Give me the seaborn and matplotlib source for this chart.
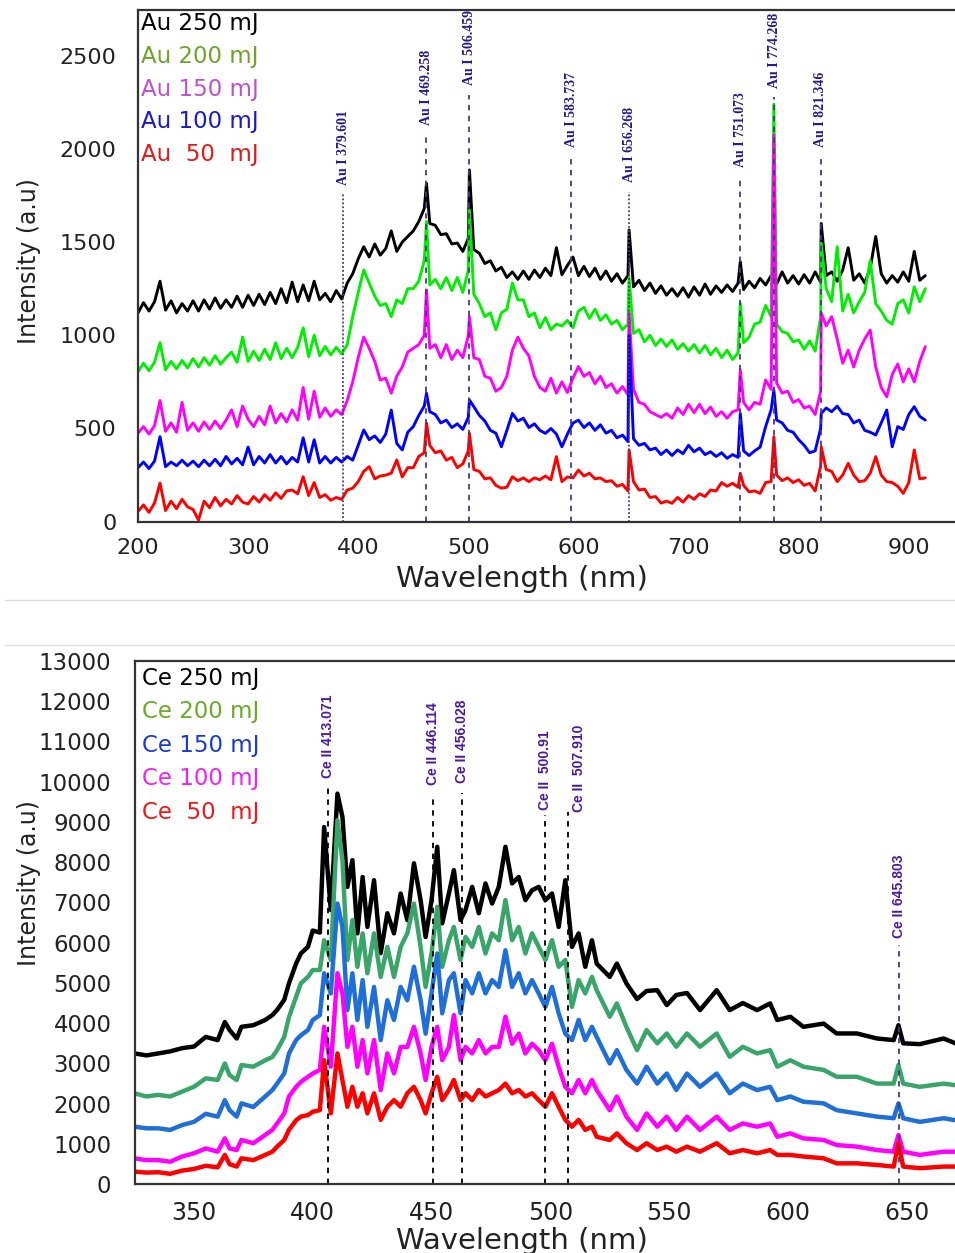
import numpy as np
import pandas as pd
import matplotlib.pyplot as plt
import seaborn as sns
from matplotlib.lines import Line2D
from matplotlib.ticker import MultipleLocator

sns.set_style("white")
plt.rcParams['font.family'] = ['DejaVu Sans']

# ---------------- Au spectra (top panel) ----------------
au_nm = np.arange(200, 916, 5)
au_labels = ['Au 250 mJ', 'Au 200 mJ', 'Au 150 mJ', 'Au 100 mJ', 'Au  50  mJ']
au_line_colors = ['#000000', '#00ee00', '#ff00ff', '#0000ff', '#ff0000']
au_text_colors = ['#000000', '#6fa32a', '#c050d0', '#1a1acd', '#e01a1a']

au_250 = [1120, 1175, 1130, 1180, 1290, 1135, 1185, 1120, 1170, 1130,
          1185, 1130, 1190, 1140, 1200, 1145, 1190, 1150, 1210, 1150,
          1215, 1160, 1220, 1165, 1230, 1170, 1250, 1175, 1285, 1180,
          1270, 1185, 1290, 1190, 1225, 1180, 1240, 1195, 1280, 1330,
          1410, 1475, 1420, 1490, 1430, 1465, 1560, 1450, 1500, 1530,
          1560, 1610, 1680, 1600, 1590, 1540, 1545, 1490, 1495, 1450,
          1520, 1460, 1440, 1385, 1400, 1345, 1365, 1310, 1340, 1300,
          1345, 1300, 1350, 1310, 1360, 1320, 1470, 1325, 1375, 1420,
          1320, 1370, 1315, 1360, 1300, 1345, 1290, 1330, 1280, 1320,
          1260, 1295, 1240, 1280, 1225, 1265, 1215, 1250, 1210, 1255,
          1205, 1260, 1215, 1275, 1220, 1265, 1230, 1270, 1235, 1280,
          1245, 1290, 1255, 1305, 1270, 1320, 1275, 1340, 1280, 1320,
          1275, 1325, 1280, 1340, 1285, 1320, 1340, 1290, 1350, 1470,
          1295, 1330, 1280, 1360, 1530, 1330, 1280, 1320, 1285, 1340,
          1290, 1450, 1295, 1320]
au_200 = [805, 850, 810, 855, 960, 815, 860, 820, 865, 825,
          875, 830, 880, 840, 890, 845, 880, 910, 855, 990,
          860, 915, 865, 925, 870, 960, 875, 930, 880, 935,
          1040, 885, 1000, 890, 940, 895, 935, 900, 950, 1100,
          1230, 1350, 1280, 1210, 1160, 1170, 1100, 1190, 1170, 1250,
          1250, 1290, 1400, 1270, 1300, 1250, 1310, 1240, 1310, 1230,
          1350, 1220, 1170, 1100, 1120, 1030, 1120, 1140, 1280, 1190,
          1190, 1100, 1120, 1040, 1095, 1030, 1060, 1050, 1080, 1040,
          1130, 1150, 1090, 1140, 1080, 1110, 1060, 1080, 1030, 1060,
          1010, 1030, 965, 1000, 945, 980, 940, 975, 925, 955,
          915, 950, 905, 945, 895, 930, 880, 920, 870, 905,
          960, 990, 1060, 1070, 1160, 1100, 1060, 1020, 1010, 965,
          975, 925, 970, 915, 1100, 1250, 1180, 1475, 1130, 1220,
          1120, 1180, 1230, 1400, 1170, 1130, 1080, 1060, 1170, 1190,
          1120, 1260, 1180, 1250]
au_150 = [475, 510, 470, 515, 650, 485, 530, 480, 640, 490,
          530, 485, 535, 495, 540, 500, 545, 600, 510, 620,
          550, 510, 565, 520, 620, 530, 580, 535, 600, 545,
          720, 550, 700, 560, 610, 565, 600, 575, 650, 750,
          880, 990, 930, 860, 760, 770, 690, 780, 830, 910,
          930, 950, 1000, 930, 950, 880, 950, 870, 920, 880,
          1000, 880, 870, 780, 770, 700, 720, 780, 920, 990,
          930, 890, 780, 720, 700, 770, 690, 750, 693, 770,
          832, 780, 800, 740, 780, 720, 740, 690, 725, 680,
          710, 640, 630, 590, 575, 560, 580, 555, 610, 575,
          630, 585, 630, 580, 615, 565, 590, 555, 590, 600,
          640, 600, 640, 630, 760, 710, 744, 690, 700, 640,
          655, 610, 620, 575, 700, 1050, 1100, 980, 850, 920,
          830, 920, 980, 1028, 830, 720, 670, 790, 846, 750,
          820, 750, 860, 939]
au_100 = [290, 320, 285, 325, 456, 295, 320, 300, 330, 300,
          325, 295, 330, 300, 335, 300, 350, 310, 340, 305,
          400, 305, 350, 315, 360, 315, 350, 310, 345, 320,
          450, 320, 440, 315, 350, 315, 345, 320, 350, 330,
          410, 492, 440, 460, 425, 470, 599, 420, 385, 480,
          510, 570, 620, 590, 575, 530, 545, 505, 525, 495,
          560, 617, 570, 540, 490, 475, 402, 490, 581, 540,
          555, 505, 525, 490, 474, 500, 470, 402, 470, 529,
          545, 505, 530, 490, 520, 475, 490, 450, 465, 430,
          445, 410, 420, 385, 395, 360, 385, 355, 385, 365,
          410, 375, 395, 360, 375, 350, 370, 340, 360, 345,
          380, 355, 380, 400, 510, 600, 545, 530, 490, 480,
          440, 410, 370, 380, 500, 610, 590, 620, 580, 575,
          530, 545, 490, 480, 465, 530, 599, 402, 510, 495,
          575, 617, 565, 545]
au_50 = [55, 90, 50, 100, 207, 60, 110, 70, 120, 80,
         65, 9, 110, 75, 130, 85, 120, 95, 140, 105,
         95, 135, 105, 145, 115, 155, 125, 165, 170, 150,
         241, 140, 210, 130, 145, 115, 130, 120, 170, 180,
         215, 270, 295, 230, 245, 250, 260, 331, 240, 290,
         290, 350, 370, 410, 370, 380, 330, 345, 290, 310,
         380, 280, 270, 230, 235, 195, 180, 185, 241, 220,
         235, 215, 235, 225, 245, 225, 349, 215, 240, 235,
         277, 245, 260, 230, 235, 215, 220, 190, 200, 165,
         215, 170, 175, 130, 135, 100, 110, 99, 130, 105,
         140, 120, 150, 135, 170, 165, 210, 190, 206, 185,
         195, 160, 165, 152, 210, 215, 250, 220, 235, 210,
         225, 195, 206, 165, 300, 280, 270, 215, 250, 313,
         250, 215, 220, 260, 349, 250, 215, 210, 190, 152,
         210, 385, 230, 235]

# sharp emission lines (nm) and their peak heights per spectrum
au_peak_nm = [462, 501, 646, 747, 777.5, 820.5]
au_250_peaks = [1815, 1887, 1565, 1395, 1330, 1600]
au_200_peaks = [1610, 1672, 1310, 1173, 2240, 1494]
au_150_peaks = [1243, 1100, 1120, 814, 2074, 1119]
au_100_peaks = [689, 653, 1000, 581, 706, 581]
au_50_peaks = [529, 474, 385, 260, 456, 402]

# line identifications: (drawn position nm, label, label bottom, line top, style)
au_ids = [(386.2, 'Au I 379.601', 1806, 1764, ':'),
          (462.0, 'Au I 469.258', 2128, 2064, '--'),
          (500.8, 'Au I 506.459', 2343, 2289, '--'),
          (593.3, 'Au I 583.737', 2011, 1962, '--'),
          (646.3, 'Au I 656.268', 1822, 1769, ':'),
          (746.8, 'Au I 751.073', 1903, 1849, '--'),
          (777.8, 'Au I 774.268', 2327, 2278, '--'),
          (820.2, 'Au I 821.346', 2011, 1962, '--')]

# ---------------- Ce spectra (bottom panel) ----------------
ce_nm = [325, 330, 335, 340, 345, 350, 355, 360, 363, 365, 368, 370, 375, 380,
         383, 385, 388, 390, 393, 395, 398, 400, 403,
         404.8, 407.6, 410.4, 412.5, 414.6, 416.7, 418.8, 421, 423, 425.8, 428.6,
         431.4, 434.2, 437, 439.8, 442.6, 445.4, 447.5, 450, 452.4, 454.5, 457.3,
         459.4, 462.2, 464.3, 467.1, 469.9, 472.7, 475.5, 478.3, 481.1, 483.9,
         486.7, 489.5, 492.3, 495.1, 497.9, 500.7, 503.5, 506.3, 509.1, 511.9,
         514.7, 517.5,
         519.5, 525, 528, 532, 536.5, 540.5, 545, 549, 553, 557.5, 563, 570, 575.5,
         581, 587, 592.5, 595.5, 601, 606.5, 615, 620.5, 629, 637.5, 644.5, 646.5,
         648.5, 655.5, 665.5, 670.5]
ce_labels = ['Ce 250 mJ', 'Ce 200 mJ', 'Ce 150 mJ', 'Ce 100 mJ', 'Ce  50  mJ']
ce_line_colors = ['#000000', '#3aa56a', '#1f6fd6', '#ff00ff', '#ff0000']
ce_text_colors = ['#000000', '#6aaa2a', '#1a3ad0', '#ee22ee', '#ee1a1a']

ce_250 = [3250, 3200, 3250, 3300, 3380, 3420, 3660, 3580, 4030, 3830, 3620, 3910,
          3950, 4080, 4200, 4330, 4580, 4990, 5480, 5730, 5900, 6300, 6250,
          8870, 6810, 9700, 9120, 7385, 8050, 6230, 7630, 6390, 7550, 5740, 6730,
          6230, 7220, 6560, 7970, 7055, 6140, 7055, 8380, 6480, 7220, 7800, 6560,
          6810, 7385, 6730, 7470, 6970, 7385, 8380, 7470, 7630, 7055, 7300, 7385,
          7055, 7220, 6390, 7550, 5895, 6230, 5400, 6060,
          5480, 5150, 5480, 4990, 4600, 4800, 4820, 4450, 4700, 4750, 4325, 4820,
          4325, 4500, 4325, 4490, 4080, 4160, 3910, 3990, 3745, 3745, 3620, 3580,
          3950, 3500, 3480, 3620, 3500]
ce_200 = [2260, 2180, 2220, 2180, 2300, 2420, 2630, 2590, 3000, 2710, 2590, 2960,
          2920, 3080, 3160, 3330, 3660, 4150, 4655, 4990, 5150, 5320, 5320,
          6060, 5570, 9040, 8050, 5570, 6560, 5400, 6230, 5240, 6230, 5150, 5895,
          5150, 5895, 6230, 6970, 5895, 4900, 5730, 6890, 5400, 6060, 6390, 5570,
          6140, 5895, 6390, 5730, 6230, 6060, 7055, 6060, 6390, 5730, 6230, 5895,
          5570, 6060, 5400, 5570, 4405, 5070, 4740, 5150,
          4820, 4160, 4490, 3910, 3330, 3830, 3500, 3745, 3415, 3745, 3415, 3745,
          3165, 3415, 3250, 3330, 2920, 3080, 2920, 2840, 2670, 2670, 2500, 2500,
          2960, 2500, 2420, 2500, 2460]
ce_150 = [1430, 1390, 1390, 1350, 1470, 1550, 1750, 1680, 2090, 1840, 1680, 2010,
          1920, 2180, 2340, 2500, 2750, 3250, 3580, 3700, 3830, 4080, 4200,
          5240, 4740, 6970, 6390, 4325, 5240, 4080, 5070, 3910, 4900, 3580, 4570,
          4080, 4900, 4570, 5400, 4570, 3740, 4740, 5730, 4245, 5070, 5240, 4245,
          5070, 4740, 5240, 4740, 5070, 4900, 5810, 4900, 5240, 4740, 5070, 4740,
          4405, 4900, 4245, 3740, 3580, 4080, 3580, 3910,
          3660, 3000, 3330, 2840, 2500, 2920, 2500, 2750, 2340, 2750, 2420, 2750,
          2260, 2500, 2340, 2420, 2090, 2180, 2050, 2010, 1840, 1760, 1680, 1640,
          2010, 1640, 1550, 1640, 1590]
ce_100 = [645, 600, 600, 560, 690, 770, 890, 810, 1140, 890, 850, 1100,
          1020, 1225, 1350, 1510, 1760, 2180, 2420, 2540, 2670, 2750, 2840,
          3910, 2920, 5240, 4740, 3410, 3910, 2920, 3580, 2755, 3580, 2340, 3250,
          2755, 3410, 3410, 3910, 3250, 2590, 3410, 3910, 3080, 3410, 4200, 3080,
          3410, 3250, 3580, 3250, 3410, 3410, 4160, 3490, 3740, 3250, 3490, 3330,
          3080, 3490, 2920, 2420, 2260, 2590, 2260, 2590,
          2340, 1840, 2180, 1680, 1350, 1760, 1430, 1680, 1350, 1680, 1350, 1680,
          1350, 1510, 1430, 1510, 1180, 1265, 1140, 1100, 975, 935, 850, 810,
          1225, 810, 730, 810, 810]
ce_50 = [315, 290, 300, 260, 340, 380, 460, 420, 730, 500, 440, 645,
         600, 730, 810, 935, 1100, 1350, 1590, 1680, 1720, 1800, 1840,
         3080, 1760, 3250, 2590, 1925, 2420, 1925, 2260, 1760, 2260, 1600, 1925,
         2090, 1925, 2260, 2420, 2090, 1760, 2260, 2670, 2090, 2340, 2590, 2090,
         2260, 2090, 2340, 2180, 2260, 2340, 2500, 2260, 2340, 2180, 2260, 2090,
         1925, 2260, 1925, 1600, 1430, 1600, 1350, 1430,
         1180, 1100, 1265, 1020, 850, 1020, 850, 935, 810, 935, 810, 1020,
         770, 850, 770, 850, 730, 730, 690, 645, 520, 520, 480, 440,
         1020, 440, 400, 440, 440]

ce_ids = [(406.6, 'Ce II 413.071', 10082, 9834, '#000000', 0),
          (450.8, 'Ce II 446.114', 9908, 9660, '#000000', 0),
          (462.8, 'Ce II 456.028', 9958, 9710, '#000000', 0),
          (497.8, 'Ce II  500.91', 9288, 9164, '#000000', 0),
          (507.4, 'Ce II  507.910', 9238, 9238, '#000000', 4.5),
          (646.6, 'Ce II 645.803', 6112, 5938, '#4a3a7a', 0)]

# ---------------- build long tables ----------------
au_frames = []
for lab, vals, peaks in zip(au_labels, [au_250, au_200, au_150, au_100, au_50],
                            [au_250_peaks, au_200_peaks, au_150_peaks, au_100_peaks, au_50_peaks]):
    assert len(vals) == len(au_nm)
    au_frames.append(pd.DataFrame({'nm': np.concatenate([au_nm, au_peak_nm]),
                                   'intensity': np.concatenate([vals, peaks]),
                                   'series': lab}))
au_df = pd.concat(au_frames, ignore_index=True)

ce_frames = []
for lab, vals in zip(ce_labels, [ce_250, ce_200, ce_150, ce_100, ce_50]):
    assert len(vals) == len(ce_nm)
    ce_frames.append(pd.DataFrame({'nm': ce_nm, 'intensity': vals, 'series': lab}))
ce_df = pd.concat(ce_frames, ignore_index=True)

# ---------------- figure ----------------
fig = plt.figure(figsize=(9.55, 12.53), dpi=100)
W, H = 955, 1253
ax1 = fig.add_axes([138 / W, 1 - 521.7 / H, (W - 138) / W, (521.7 - 10) / H])
ax2 = fig.add_axes([135 / W, 1 - 1184.3 / H, (W - 135) / W, (1184.3 - 660.7) / H])

spine_c = '#333333'

# top panel
sns.lineplot(data=au_df, x='nm', y='intensity', hue='series', hue_order=au_labels,
             palette=au_line_colors, estimator=None, sort=True, legend=False,
             linewidth=2.1, ax=ax1)
ax1.set_xlim(200, 942)
ax1.set_ylim(0, 2745)
ax1.set_xticks(range(200, 901, 100))
ax1.set_yticks(range(0, 2501, 500))
ax1.xaxis.set_minor_locator(MultipleLocator(50))
ax1.yaxis.set_minor_locator(MultipleLocator(250))
ax1.tick_params(axis='both', which='both', direction='out', colors=spine_c,
                labelcolor='#222222', labelsize=16, width=1.3, pad=7)
ax1.tick_params(axis='y', which='major', length=8.5)
ax1.tick_params(axis='y', which='minor', length=4)
ax1.tick_params(axis='x', which='major', length=5)
ax1.tick_params(axis='x', which='minor', length=3)
ax1.set_xlabel('Wavelength (nm)', fontsize=21, color='#222222')
ax1.set_ylabel('Intensity (a.u)', fontsize=17, color='#222222')
ax1.xaxis.set_label_coords(0.47, -0.085)
ax1.yaxis.set_label_coords(-0.119, 0.509)

for x, lab, ytxt, ytop, ls in au_ids:
    ax1.plot([x, x], [0, ytop], color='#4a3a7a', linestyle=ls, linewidth=1.3,
             dashes=(3, 3) if ls == '--' else (1, 1.2))
    ax1.text(x, ytxt, lab, rotation=90, ha='center', va='bottom', fontsize=10,
             fontweight='bold', color='#2a1a8a',
             family=['Liberation Serif', 'DejaVu Serif'])

for i, (lab, c) in enumerate(zip(au_labels, au_text_colors)):
    ax1.text(0.004, 0.973 - i * 0.0637, lab, transform=ax1.transAxes, ha='left',
             va='center', fontsize=16.5, color=c)

# bottom panel
sns.lineplot(data=ce_df, x='nm', y='intensity', hue='series', hue_order=ce_labels,
             palette=ce_line_colors, estimator=None, sort=True, legend=False,
             linewidth=3.2, ax=ax2)
ax2.set_xlim(325.2, 670.3)
ax2.set_ylim(0, 13000)
ax2.set_xticks(range(350, 651, 50))
ax2.set_yticks(range(0, 13001, 1000))
ax2.tick_params(axis='both', which='both', length=0, labelcolor='#222222')
ax2.tick_params(axis='y', labelsize=16.5, pad=17)
ax2.tick_params(axis='x', labelsize=17, pad=12)
ax2.set_xlabel('Wavelength (nm)', fontsize=21, color='#222222')
ax2.set_ylabel('Intensity (a.u)', fontsize=17, color='#222222')
ax2.xaxis.set_label_coords(0.472, -0.081)
ax2.yaxis.set_label_coords(-0.115, 0.575)

for x, lab, ytxt, ytop, lc, dx in ce_ids:
    ax2.plot([x, x], [0, ytop], color=lc, linestyle='--', linewidth=1.3, dashes=(3, 3))
    ax2.text(x + dx, ytxt, lab, rotation=90, ha='center', va='bottom', fontsize=10,
             fontweight='bold', color='#4a1aa0',
             family=['Liberation Sans', 'DejaVu Sans'])

for i, (lab, c) in enumerate(zip(ce_labels, ce_text_colors)):
    ax2.text(0.008, 0.9665 - i * 0.064, lab, transform=ax2.transAxes, ha='left',
             va='center', fontsize=16.5, color=c)

for ax in (ax1, ax2):
    for side in ('left', 'bottom', 'top'):
        ax.spines[side].set_color(spine_c)
        ax.spines[side].set_linewidth(1.6)
    ax.spines['right'].set_visible(False)

# light separator rules between the two panels
for yy in (600, 645):
    fig.add_artist(Line2D([5 / W, 1], [1 - yy / H, 1 - yy / H], color='#dddddd', linewidth=1))

fig.savefig('out.png', dpi=100)
